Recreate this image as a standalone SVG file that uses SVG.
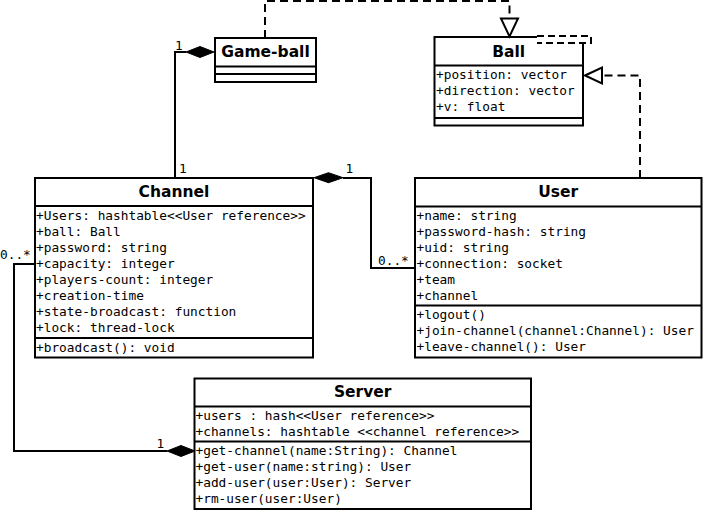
<svg xmlns="http://www.w3.org/2000/svg" width="704" height="513" viewBox="0 0 704 513">
<defs>
<style>
.box{fill:#fff;stroke:#000;stroke-width:2}
.sep{stroke:#000;stroke-width:2;fill:none}
.t{font-family:"DejaVu Sans","Noto Sans",sans-serif;font-weight:bold;font-size:15.5px;text-anchor:middle;fill:#000}
.a{font-family:"DejaVu Sans Mono","Liberation Mono",monospace;font-size:12.8px;fill:#000}
.ln{fill:none;stroke:#000;stroke-width:2}
.dash{fill:none;stroke:#000;stroke-width:2;stroke-dasharray:8 5}
.dia{fill:#000;stroke:#000;stroke-width:1}
.tri{fill:#fff;stroke:#000;stroke-width:2}
</style>
</defs>
<rect width="704" height="513" fill="#fff"/>
<g id="game-ball">
<rect class="box" x="215" y="38" width="101" height="44"/>
<path class="sep" d="M215,66.5 H316 M215,74 H316"/>
<text class="t" x="265.5" y="57">Game-ball</text>
</g>
<g id="ball">
<rect class="box" x="434.5" y="37" width="148.5" height="88.5"/>
<path class="sep" d="M434.5,65.5 H583 M434.5,118 H583"/>
<text class="t" x="508.7" y="56.5">Ball</text>
<text class="a" x="436" y="79.3">+position: vector</text>
<text class="a" x="436" y="95.3">+direction: vector</text>
<text class="a" x="436" y="111.3">+v: float</text>
</g>
<g id="channel">
<rect class="box" x="35" y="178" width="278" height="179.5"/>
<path class="sep" d="M35,206 H313 M35,338 H313"/>
<text class="t" x="174" y="197">Channel</text>
<text class="a" x="36" y="219.5">+Users: hashtable&lt;&lt;User reference&gt;&gt;</text>
<text class="a" x="36" y="235.5">+ball: Ball</text>
<text class="a" x="36" y="251.5">+password: string</text>
<text class="a" x="36" y="267.5">+capacity: integer</text>
<text class="a" x="36" y="283.5">+players-count: integer</text>
<text class="a" x="36" y="299.5">+creation-time</text>
<text class="a" x="36" y="315.5">+state-broadcast: function</text>
<text class="a" x="36" y="331.5">+lock: thread-lock</text>
<text class="a" x="36" y="351.7">+broadcast(): void</text>
</g>
<g id="user">
<rect class="box" x="415" y="178" width="286.5" height="179.5"/>
<path class="sep" d="M415,206.5 H701.5 M415,305.5 H701.5"/>
<text class="t" x="558.2" y="197">User</text>
<text class="a" x="416.5" y="220">+name: string</text>
<text class="a" x="416.5" y="236">+password-hash: string</text>
<text class="a" x="416.5" y="252">+uid: string</text>
<text class="a" x="416.5" y="268">+connection: socket</text>
<text class="a" x="416.5" y="284">+team</text>
<text class="a" x="416.5" y="300">+channel</text>
<text class="a" x="416.5" y="319">+logout()</text>
<text class="a" x="416.5" y="335">+join-channel(channel:Channel): User</text>
<text class="a" x="416.5" y="351">+leave-channel(): User</text>
</g>
<g id="server">
<rect class="box" x="194.5" y="378.5" width="336.5" height="130.5"/>
<path class="sep" d="M194.5,406.5 H531 M194.5,441.5 H531"/>
<text class="t" x="362.7" y="397">Server</text>
<text class="a" x="195.5" y="420">+users : hash&lt;&lt;User reference&gt;&gt;</text>
<text class="a" x="195.5" y="436">+channels: hashtable &lt;&lt;channel reference&gt;&gt;</text>
<text class="a" x="195.5" y="455">+get-channel(name:String): Channel</text>
<text class="a" x="195.5" y="471">+get-user(name:string): User</text>
<text class="a" x="195.5" y="487">+add-user(user:User): Server</text>
<text class="a" x="195.5" y="503">+rm-user(user:User)</text>
</g>
<g id="connectors">
<path class="dash" d="M265,38 V1 H509.5 V18.5"/>
<polygon class="tri" points="501,18.5 518,18.5 509.5,36.5"/>
<rect x="537" y="34" width="56" height="10" fill="#fff"/>
<path class="dash" style="stroke-dasharray:7 4" d="M537,36 H591 V43 H537"/>
<path class="dash" d="M640,178 V75.5 H602"/>
<polygon class="tri" points="585,75.5 602,67.5 602,83.5"/>
<path class="ln" d="M175,178 V52 H186"/>
<polygon class="dia" points="186,52 200,46.5 214,52 200,57.5"/>
<polygon class="dia" points="314,177.7 328.5,172.7 343,177.7 328.5,182.7"/>
<path class="ln" d="M343,178 H371 V268 H415"/>
<path class="ln" d="M35,264 H14 V451 H167"/>
<polygon class="dia" points="167,451 181,445.5 195,451 181,456.5"/>
<text class="a" x="175" y="49.5">1</text>
<text class="a" x="179" y="173">1</text>
<text class="a" x="345.5" y="173">1</text>
<text class="a" x="378" y="265">0..*</text>
<text class="a" x="0" y="258.5">0..*</text>
<text class="a" x="156.5" y="447.5">1</text>
</g>
</svg>
